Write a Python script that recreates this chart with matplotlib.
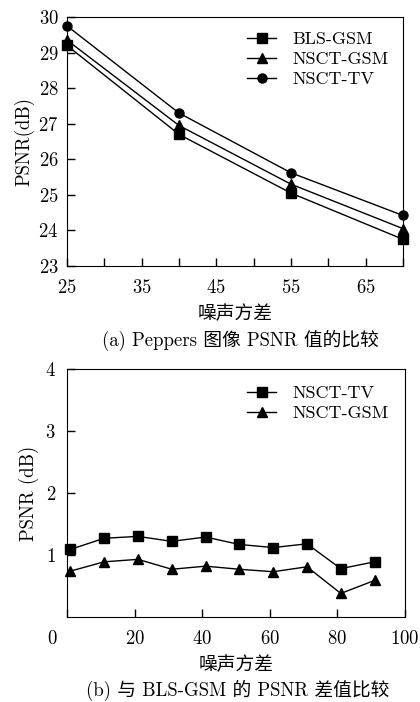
import matplotlib
matplotlib.use("Agg")
import matplotlib.pyplot as plt
import matplotlib.transforms as mtransforms

plt.rcParams['font.family'] = ['cmr10', 'Noto Sans CJK SC']
plt.rcParams['axes.formatter.use_mathtext'] = True

# (a) Peppers
noise_a = [25, 40, 55, 70]
bls_gsm = [29.2, 26.7, 25.05, 23.75]
nsct_gsm = [29.35, 26.95, 25.3, 24.05]
nsct_tv = [29.75, 27.3, 25.62, 24.42]

# (b) difference to BLS-GSM
noise_b = [1, 11, 21, 31, 41, 51, 61, 71, 81, 91]
diff_tv = [1.09, 1.27, 1.30, 1.22, 1.29, 1.17, 1.12, 1.18, 0.78, 0.89]
diff_gsm = [0.74, 0.89, 0.93, 0.77, 0.82, 0.77, 0.73, 0.81, 0.38, 0.59]

fig = plt.figure(figsize=(4.2, 7.02), dpi=100)

lw = 1.0
ms = 6.5
tick_fs = 13.5
lab_fs = 13.5
cap_fs = 13.5

# ---- top plot
ax1 = fig.add_axes([67/420, 1 - 266/702, 336/420, 249/702])
ax1.plot(noise_a, bls_gsm, color='black', lw=lw, marker='s', ms=ms, label='BLS-GSM', clip_on=False, zorder=3)
ax1.plot(noise_a, nsct_gsm, color='black', lw=lw, marker='^', ms=ms+0.5, label='NSCT-GSM', clip_on=False, zorder=3)
ax1.plot(noise_a, nsct_tv, color='black', lw=lw, marker='o', ms=ms, label='NSCT-TV', clip_on=False, zorder=3)
ax1.set_xlim(25, 70)
ax1.set_ylim(23, 30)
ax1.set_xticks([25, 35, 45, 55, 65])
ax1.set_xticks([30, 40, 50, 60, 70], minor=True)
ax1.set_yticks(range(23, 31))
ax1.tick_params(which='both', direction='in', length=6, width=1.0, labelsize=tick_fs, top=False, right=False)
ax1.tick_params(axis='x', pad=9)
ax1.tick_params(axis='y', pad=6)
ax1.set_ylabel('PSNR(dB)', fontsize=lab_fs, labelpad=3)
ax1.set_xlabel('噪声方差', fontsize=lab_fs, labelpad=6)
ax1.legend(loc='upper right', frameon=False, fontsize=13, handlelength=1.6,
           labelspacing=0.25, handletextpad=0.9, borderaxespad=0.4)
fig.text(240/420, 1 - 340/702, '(a) Peppers 图像 PSNR 值的比较', fontsize=cap_fs, ha='center', va='center')

# ---- bottom plot
ax2 = fig.add_axes([67/420, 1 - 617/702, 338/420, 248/702])
ax2.plot(noise_b, diff_tv, color='black', lw=lw, marker='s', ms=ms, label='NSCT-TV', clip_on=False, zorder=3)
ax2.plot(noise_b, diff_gsm, color='black', lw=lw, marker='^', ms=ms+0.5, label='NSCT-GSM', clip_on=False, zorder=3)
ax2.set_xlim(0, 100)
ax2.set_ylim(0, 4)
ax2.set_xticks([0, 20, 40, 60, 80, 100])
ax2.set_yticks([1, 2, 3, 4])
ax2.tick_params(which='both', direction='in', length=6, width=1.0, labelsize=tick_fs, top=False, right=False)
ax2.tick_params(axis='x', pad=9)
ax2.tick_params(axis='y', pad=8)
ax2.set_ylabel('PSNR (dB)', fontsize=lab_fs, labelpad=4)
ax2.set_xlabel('噪声方差', fontsize=lab_fs, labelpad=6)
ax2.legend(loc='upper right', frameon=False, fontsize=13, handlelength=1.6,
           labelspacing=0.25, handletextpad=0.9, borderaxespad=0.5)
fig.text(238/420, 1 - 690/702, '(b) 与 BLS-GSM 的 PSNR 差值比较', fontsize=cap_fs, ha='center', va='center')

fig.canvas.draw()
first = ax2.get_xticklabels()[0]
first.set_transform(first.get_transform() + mtransforms.ScaledTranslation(-15/100, 0, fig.dpi_scale_trans))

fig.savefig('out.png', dpi=100)
